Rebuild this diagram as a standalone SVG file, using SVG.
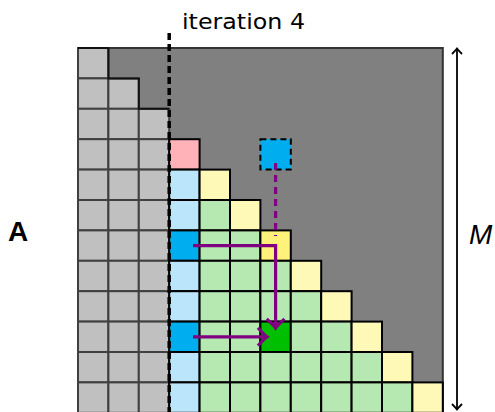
<svg xmlns="http://www.w3.org/2000/svg" width="495" height="412" viewBox="0 0 495 412">
<style>
.lg{fill:#c0c0c0;stroke:#404040;stroke-width:2}
.pk{fill:#ffb3b8;stroke:#000;stroke-width:2}
.lb{fill:#bbe5fa;stroke:#000;stroke-width:2}
.bb{fill:#00adef;stroke:#000;stroke-width:2}
.ly{fill:#fff9b8;stroke:#000;stroke-width:2}
.yy{fill:#fff27a;stroke:#000;stroke-width:2}
.gr{fill:#b6e8b2;stroke:#000;stroke-width:2}
.dg{fill:#00bf00;stroke:#000;stroke-width:2}
.pu{fill:none;stroke:#800080;stroke-width:3.2}
.lbl{font-family:"Liberation Sans",Arial,sans-serif;fill:#000}
</style>
<defs>
<marker id="pa" markerUnits="userSpaceOnUse" markerWidth="22" markerHeight="22" viewBox="-11 -11 22 22" refX="0" refY="0" orient="auto">
<path d="M-8,-9 Q-2,-2 1,0 Q-2,2 -8,9" fill="none" stroke="#800080" stroke-width="3.2"/>
</marker>
<marker id="ka" markerUnits="userSpaceOnUse" markerWidth="14" markerHeight="14" viewBox="-7 -7 14 14" refX="0" refY="0" orient="auto-start-reverse">
<path d="M-5,-5 Q-1.5,-1.5 0.5,0 Q-1.5,1.5 -5,5" fill="none" stroke="#000" stroke-width="1.8"/>
</marker>
</defs>

<g id="matrix">
<rect x="78" y="48" width="364.8" height="366" fill="#808080" stroke="#333" stroke-width="2"/>
</g>

<g id="factored">
<rect class="lg" x="78" y="48" width="30.4" height="30.4"/>
<rect class="lg" x="78" y="78.4" width="30.4" height="30.4"/><rect class="lg" x="108.4" y="78.4" width="30.4" height="30.4"/>
<rect class="lg" x="78" y="108.8" width="30.4" height="30.4"/><rect class="lg" x="108.4" y="108.8" width="30.4" height="30.4"/><rect class="lg" x="138.8" y="108.8" width="30.4" height="30.4"/>
<rect class="lg" x="78" y="139.2" width="30.4" height="30.4"/><rect class="lg" x="108.4" y="139.2" width="30.4" height="30.4"/><rect class="lg" x="138.8" y="139.2" width="30.4" height="30.4"/>
<rect class="lg" x="78" y="169.6" width="30.4" height="30.4"/><rect class="lg" x="108.4" y="169.6" width="30.4" height="30.4"/><rect class="lg" x="138.8" y="169.6" width="30.4" height="30.4"/>
<rect class="lg" x="78" y="200" width="30.4" height="30.4"/><rect class="lg" x="108.4" y="200" width="30.4" height="30.4"/><rect class="lg" x="138.8" y="200" width="30.4" height="30.4"/>
<rect class="lg" x="78" y="230.4" width="30.4" height="30.4"/><rect class="lg" x="108.4" y="230.4" width="30.4" height="30.4"/><rect class="lg" x="138.8" y="230.4" width="30.4" height="30.4"/>
<rect class="lg" x="78" y="260.8" width="30.4" height="30.4"/><rect class="lg" x="108.4" y="260.8" width="30.4" height="30.4"/><rect class="lg" x="138.8" y="260.8" width="30.4" height="30.4"/>
<rect class="lg" x="78" y="291.2" width="30.4" height="30.4"/><rect class="lg" x="108.4" y="291.2" width="30.4" height="30.4"/><rect class="lg" x="138.8" y="291.2" width="30.4" height="30.4"/>
<rect class="lg" x="78" y="321.6" width="30.4" height="30.4"/><rect class="lg" x="108.4" y="321.6" width="30.4" height="30.4"/><rect class="lg" x="138.8" y="321.6" width="30.4" height="30.4"/>
<rect class="lg" x="78" y="352" width="30.4" height="30.4"/><rect class="lg" x="108.4" y="352" width="30.4" height="30.4"/><rect class="lg" x="138.8" y="352" width="30.4" height="30.4"/>
<rect class="lg" x="78" y="382.4" width="30.4" height="30.4"/><rect class="lg" x="108.4" y="382.4" width="30.4" height="30.4"/><rect class="lg" x="138.8" y="382.4" width="30.4" height="30.4"/>
<path d="M78,48 H108.4 V78.4 H138.8 V108.8 H169.2" fill="none" stroke="#111" stroke-width="2"/>
</g>

<g id="column">
<rect class="pk" x="169.2" y="139.2" width="30.4" height="30.4"/>
<rect class="lb" x="169.2" y="169.6" width="30.4" height="30.4"/>
<rect class="lb" x="169.2" y="200" width="30.4" height="30.4"/>
<rect class="bb" x="169.2" y="230.4" width="30.4" height="30.4"/>
<rect class="lb" x="169.2" y="260.8" width="30.4" height="30.4"/>
<rect class="lb" x="169.2" y="291.2" width="30.4" height="30.4"/>
<rect class="bb" x="169.2" y="321.6" width="30.4" height="30.4"/>
<rect class="lb" x="169.2" y="352" width="30.4" height="30.4"/>
<rect class="lb" x="169.2" y="382.4" width="30.4" height="30.4"/>
</g>

<g id="trailing">
<rect class="ly" x="199.6" y="169.6" width="30.4" height="30.4"/>
<rect class="gr" x="199.6" y="200" width="30.4" height="30.4"/><rect class="ly" x="230" y="200" width="30.4" height="30.4"/>
<rect class="gr" x="199.6" y="230.4" width="30.4" height="30.4"/><rect class="gr" x="230" y="230.4" width="30.4" height="30.4"/><rect class="yy" x="260.4" y="230.4" width="30.4" height="30.4"/>
<rect class="gr" x="199.6" y="260.8" width="30.4" height="30.4"/><rect class="gr" x="230" y="260.8" width="30.4" height="30.4"/><rect class="gr" x="260.4" y="260.8" width="30.4" height="30.4"/><rect class="ly" x="290.8" y="260.8" width="30.4" height="30.4"/>
<rect class="gr" x="199.6" y="291.2" width="30.4" height="30.4"/><rect class="gr" x="230" y="291.2" width="30.4" height="30.4"/><rect class="gr" x="260.4" y="291.2" width="30.4" height="30.4"/><rect class="gr" x="290.8" y="291.2" width="30.4" height="30.4"/><rect class="ly" x="321.2" y="291.2" width="30.4" height="30.4"/>
<rect class="gr" x="199.6" y="321.6" width="30.4" height="30.4"/><rect class="gr" x="230" y="321.6" width="30.4" height="30.4"/><rect class="dg" x="260.4" y="321.6" width="30.4" height="30.4"/><rect class="gr" x="290.8" y="321.6" width="30.4" height="30.4"/><rect class="gr" x="321.2" y="321.6" width="30.4" height="30.4"/><rect class="ly" x="351.6" y="321.6" width="30.4" height="30.4"/>
<rect class="gr" x="199.6" y="352" width="30.4" height="30.4"/><rect class="gr" x="230" y="352" width="30.4" height="30.4"/><rect class="gr" x="260.4" y="352" width="30.4" height="30.4"/><rect class="gr" x="290.8" y="352" width="30.4" height="30.4"/><rect class="gr" x="321.2" y="352" width="30.4" height="30.4"/><rect class="gr" x="351.6" y="352" width="30.4" height="30.4"/><rect class="ly" x="382" y="352" width="30.4" height="30.4"/>
<rect class="gr" x="199.6" y="382.4" width="30.4" height="30.4"/><rect class="gr" x="230" y="382.4" width="30.4" height="30.4"/><rect class="gr" x="260.4" y="382.4" width="30.4" height="30.4"/><rect class="gr" x="290.8" y="382.4" width="30.4" height="30.4"/><rect class="gr" x="321.2" y="382.4" width="30.4" height="30.4"/><rect class="gr" x="351.6" y="382.4" width="30.4" height="30.4"/><rect class="gr" x="382" y="382.4" width="30.4" height="30.4"/><rect class="ly" x="412.4" y="382.4" width="30.4" height="30.4"/>
</g>

<g id="upper-cell">
<rect x="260.4" y="139.2" width="30.4" height="30.4" fill="#00adef" stroke="#000" stroke-width="2" stroke-dasharray="6 4"/>
</g>

<g id="connectors">
<line x1="169.2" y1="33" x2="169.2" y2="412" stroke="#000" stroke-width="3.5" stroke-dasharray="7 4"/>
<line class="pu" x1="275.6" y1="163" x2="275.6" y2="236" stroke-dasharray="7 5"/>
<path class="pu" d="M193,245.6 H275.6 V327" marker-end="url(#pa)"/>
<path class="pu" d="M193,336.8 H266" marker-end="url(#pa)"/>
<line x1="457" y1="49" x2="457" y2="409" stroke="#000" stroke-width="1.8" marker-start="url(#ka)" marker-end="url(#ka)"/>
</g>

<g id="labels">
<text x="182" y="29" font-family="'DejaVu Sans',sans-serif" font-size="22" textLength="123" lengthAdjust="spacingAndGlyphs">iteration 4</text>
<text class="lbl" x="8" y="241" font-size="28" font-weight="bold">A</text>
<text class="lbl" x="469" y="244" font-size="28" font-style="italic">M</text>
</g>
</svg>
